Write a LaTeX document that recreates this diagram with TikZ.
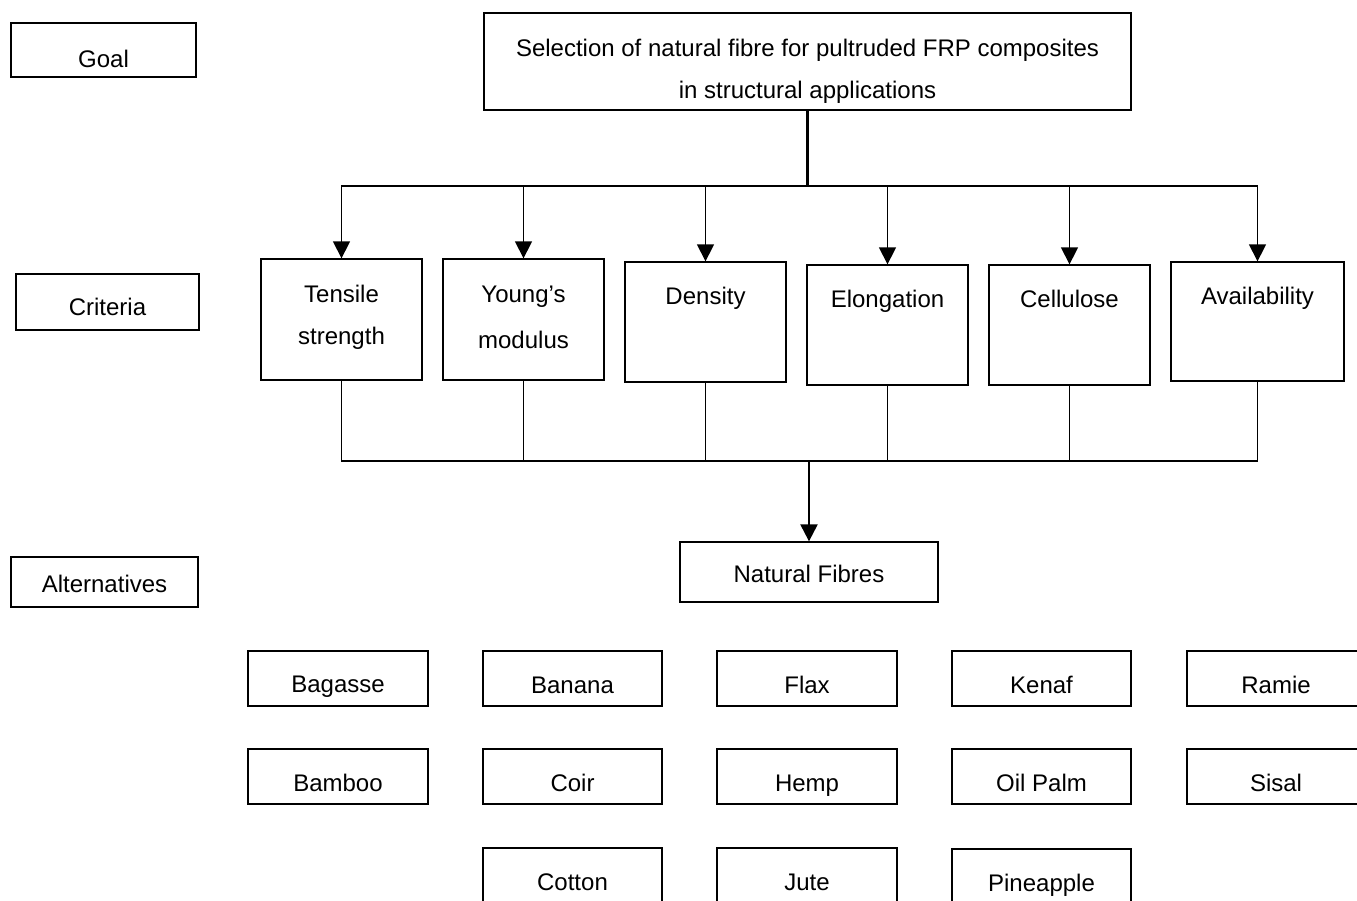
\documentclass[tikz,border=0pt]{standalone}
\usepackage{fontspec}
\setmainfont{Liberation Sans}
\usetikzlibrary{arrows.meta}
\tikzset{
  bx/.style={draw, rectangle, line width=1.3pt, inner sep=0pt},
  hbx/.style={draw, rectangle, line width=2.3pt, inner sep=0pt},
  txt/.style={inner sep=0pt, anchor=base, font=\fontsize{24}{28}\selectfont},
  ln/.style={line width=1.3pt},
  trunk/.style={line width=2.2pt},
  arr/.style={-{Triangle[width=17pt,length=17pt]}},
}
\newcommand{\mybox}[6]{% style, name, x1, y1, x2, y2
  \node[#1, minimum width={(#5-#3)*1pt}, minimum height={(#6-#4)*1pt}] (#2) at ({(#3+#5)/2},{(#4+#6)/2}) {};}
\begin{document}
\begin{tikzpicture}[x=1pt,y=-1pt]
\useasboundingbox (0,0) rectangle (1357,900);
% level labels
\mybox{hbx}{goal}{11}{23}{196}{77}
\node[txt] (goalT) at (103.5,67) {Goal};
\mybox{hbx}{crit}{16}{274}{199}{330}
\node[txt] (critT) at (107.5,315) {Criteria};
\mybox{hbx}{alt}{11}{557}{198}{607}
\node[txt] (altT) at (104.5,592) {Alternatives};
% top goal
\mybox{bx}{top}{484}{13}{1131}{110}
\node[txt] (topA) at (807.5,56) {Selection of natural fibre for pultruded FRP composites};
\node[txt] (topB) at (807.5,98) {in structural applications};
% criteria
\mybox{bx}{c1}{261}{259}{422}{380}
\node[txt] (c1a) at (341.5,302) {Tensile};
\node[txt] (c1b) at (341.5,344) {strength};
\mybox{bx}{c2}{443}{259}{604}{380}
\node[txt] (c2a) at (523.5,302) {Young’s};
\node[txt] (c2b) at (523.5,348) {modulus};
\mybox{bx}{c3}{625}{262}{786}{382}
\node[txt] (c3a) at (705.5,304) {Density};
\mybox{bx}{c4}{807}{265}{968}{385}
\node[txt] (c4a) at (887.5,307) {Elongation};
\mybox{bx}{c5}{989}{265}{1150}{385}
\node[txt] (c5a) at (1069.5,307) {Cellulose};
\mybox{bx}{c6}{1171}{262}{1344}{381}
\node[txt] (c6a) at (1257.5,304) {Availability};
% natural fibres
\mybox{bx}{nf}{680}{542}{938}{602}
\node[txt] (nfT) at (809,582) {Natural Fibres};
% connectors top
\coordinate (j1) at (807.5,186);
\draw[trunk] (top.south) -- (j1);
\foreach \c in {c1,c2,c3,c4,c5,c6}{
  \draw[ln,arr] (j1) -| (\c.north);
}
% connectors bottom
\coordinate (j2) at (809,461);
\foreach \c in {c1,c2,c3,c4,c5,c6}{
  \draw[ln] (\c.south) |- (j2);
}
\draw[trunk,arr] (j2) -- (nf.north);
% alternatives
\mybox{bx}{a11}{248}{651}{428}{706}
\node[txt] at (338,692) {Bagasse};
\mybox{bx}{a12}{483}{651}{662}{706}
\node[txt] at (572.5,693) {Banana};
\mybox{bx}{a13}{717}{651}{897}{706}
\node[txt] at (807,693) {Flax};
\mybox{bx}{a14}{952}{651}{1131}{706}
\node[txt] at (1041.5,693) {Kenaf};
\mybox{bx}{a15}{1187}{651}{1366}{706}
\node[txt] at (1276,693) {Ramie};
\mybox{bx}{a21}{248}{749}{428}{804}
\node[txt] at (338,791) {Bamboo};
\mybox{bx}{a22}{483}{749}{662}{804}
\node[txt] at (572.5,791) {Coir};
\mybox{bx}{a23}{717}{749}{897}{804}
\node[txt] at (807,791) {Hemp};
\mybox{bx}{a24}{952}{749}{1131}{804}
\node[txt] at (1041.5,791) {Oil Palm};
\mybox{bx}{a25}{1187}{749}{1366}{804}
\node[txt] at (1276,791) {Sisal};
\mybox{bx}{a32}{483}{848}{662}{904}
\node[txt] at (572.5,890) {Cotton};
\mybox{bx}{a33}{717}{848}{897}{904}
\node[txt] at (807,890) {Jute};
\mybox{bx}{a34}{952}{849}{1131}{904}
\node[txt] at (1041.5,891) {Pineapple};
\end{tikzpicture}
\end{document}
